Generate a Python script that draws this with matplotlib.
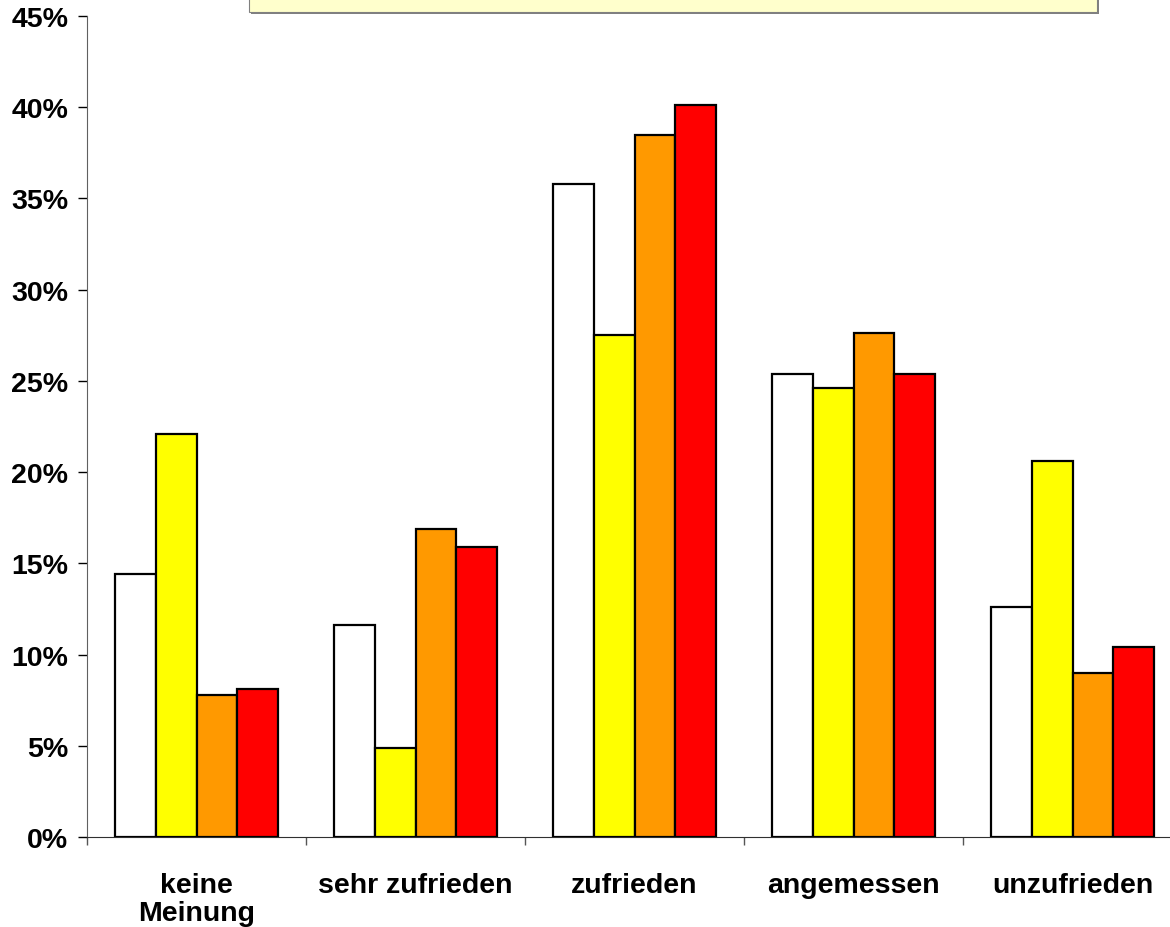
import numpy as np
import matplotlib
matplotlib.use('Agg')
import matplotlib.pyplot as plt
from matplotlib.patches import Rectangle

# Daten
kategorien = ['keine\nMeinung', 'sehr zufrieden', 'zufrieden', 'angemessen', 'unzufrieden']
gruppe_weiss = [14.4, 11.6, 35.8, 25.4, 12.6]
gruppe_gelb = [22.1, 4.9, 27.5, 24.6, 20.6]
gruppe_orange = [7.8, 16.9, 38.5, 27.6, 9.0]
gruppe_rot = [8.1, 15.9, 40.1, 25.4, 10.4]
farben = ['#FFFFFF', '#FFFF00', '#FF9900', '#FF0000']
y_ticks = [0, 5, 10, 15, 20, 25, 30, 35, 40, 45]
titel = 'Gruppen im Vergleich'

plt.rcParams['font.family'] = ['Liberation Sans', 'DejaVu Sans']
plt.rcParams['font.weight'] = 'bold'

W, H = 1170, 928
fig = plt.figure(figsize=(W / 100, H / 100), dpi=100)
ax = fig.add_axes([87 / W, 1 - 838 / H, 1095 / W, 821 / H])

x = np.arange(len(kategorien))
breite = 0.185
serien = [gruppe_weiss, gruppe_gelb, gruppe_orange, gruppe_rot]
for i, (werte, farbe) in enumerate(zip(serien, farben)):
    ax.bar(x + (i - 1.5) * breite, werte, width=breite, color=farbe,
           edgecolor='black', linewidth=1.6, zorder=3)

ax.set_xlim(-0.5, len(kategorien) - 0.5)
ax.set_ylim(0, 45)
ax.set_yticks(y_ticks)
ax.set_yticklabels([f'{t}%' for t in y_ticks], fontsize=20.5, fontweight='bold')
ax.set_xticks(x)
ax.set_xticklabels(kategorien, fontsize=20.5, fontweight='bold', linespacing=1.1)
ax.set_xticks(np.arange(len(kategorien) + 1) - 0.5, minor=True)

ax.tick_params(axis='y', length=6.5, width=1, pad=7, direction='out')
ax.tick_params(axis='x', which='major', length=0, pad=25)
ax.tick_params(axis='x', which='minor', length=6, width=1, color='#555555')

for s in ['top', 'right']:
    ax.spines[s].set_visible(False)
ax.spines['left'].set_color('#606060')
ax.spines['bottom'].set_color('#303030')

# Titelkasten (oben abgeschnitten)
x0, x1 = 249 / W, 1097 / W
y0 = 1 - 13 / H
fig.patches.append(Rectangle((x0 + 2 / W, y0 - 2 / H), x1 - x0, 0.1,
                             transform=fig.transFigure, facecolor='#808080',
                             edgecolor='none', zorder=1))
fig.patches.append(Rectangle((x0, y0), x1 - x0, 0.1,
                             transform=fig.transFigure, facecolor='#FFFFCC',
                             edgecolor='#808080', linewidth=0.8, zorder=2))
fig.text(271 / W, 1 + 7.5 / H, titel, fontsize=26.6, fontweight='bold',
         ha='left', va='baseline', zorder=3)

fig.savefig('out.png', dpi=100)
